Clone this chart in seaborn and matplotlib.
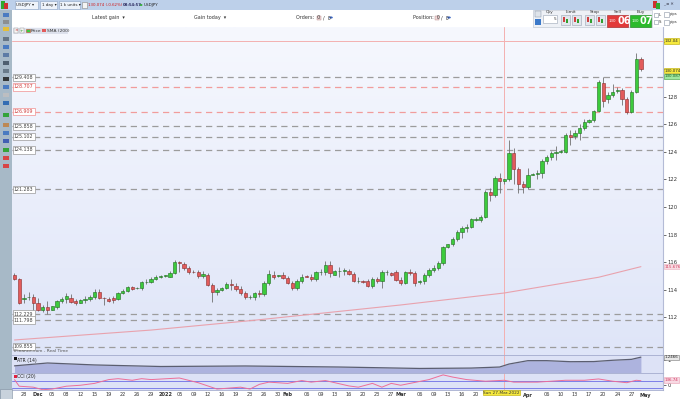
import numpy as np
import pandas as pd
import matplotlib
matplotlib.use("Agg")
import matplotlib.pyplot as plt
import seaborn as sns
from matplotlib.patches import Rectangle
from matplotlib.colors import LinearSegmentedColormap
from matplotlib.transforms import blended_transform_factory as blend

# ---------------- data ----------------
pair = "USDJPY"
lead_dates = ["2021-11-25", "2021-11-26"]
session_start, axis_end = "2021-11-28", "2022-05-01"

opens = [
    115.05, 114.75,
    113.35, 113.45, 113.50, 113.05, 112.50, 112.75,
    112.55, 112.75, 113.18, 113.35, 113.40, 113.20,
    113.05, 113.28, 113.30, 113.45, 113.85, 113.40,
    113.35, 113.40, 113.35, 113.75, 113.90, 114.20,
    114.10, 114.10, 114.55, 114.55, 114.80, 114.95,
    115.00, 114.95, 115.20, 116.00, 115.85, 115.55,
    115.30, 115.30, 115.00, 115.10, 114.35, 113.85,
    113.95, 114.15, 114.40, 114.30, 114.05, 113.75,
    113.45, 113.45, 113.75, 113.65, 114.50, 115.10,
    115.00, 115.05, 114.85, 114.50, 114.10, 114.60,
    115.00, 114.95, 114.75, 115.25, 115.25, 115.80,
    115.10, 115.35, 115.35, 115.35, 115.15, 114.60,
    114.60, 114.60, 114.30, 114.80, 114.60, 115.25,
    115.20, 115.25, 114.70, 114.45, 115.25, 115.20,
    114.55, 114.60, 115.05, 115.40, 115.60, 115.90,
    117.10, 117.30, 117.65, 118.20, 118.45, 118.55,
    119.05, 119.05, 119.30, 121.10, 120.90, 122.10,
    121.85, 122.00, 123.90, 122.75, 121.65, 121.45,
    122.35, 122.42, 122.50, 123.35, 123.60, 123.90,
    124.00, 124.00, 125.20, 125.15, 125.35, 125.70,
    126.20, 126.30, 126.95, 129.00, 127.80, 128.10,
    128.45, 128.50, 127.80, 126.90, 128.35, 130.75,
]
highs = [
    115.20, 114.85,
    113.70, 113.80, 113.65, 113.40, 112.90, 113.20,
    112.85, 113.25, 113.45, 113.75, 113.65, 113.35,
    113.30, 113.55, 113.60, 114.05, 114.05, 113.45,
    113.45, 113.55, 113.85, 114.05, 114.30, 114.30,
    114.20, 114.65, 114.80, 114.90, 115.10, 115.10,
    115.10, 115.35, 116.15, 116.10, 116.00, 115.70,
    115.40, 115.45, 115.35, 115.20, 114.45, 114.15,
    114.20, 114.55, 114.75, 114.50, 114.25, 113.90,
    113.60, 113.85, 113.95, 114.60, 115.40, 115.35,
    115.10, 115.30, 115.00, 114.60, 114.75, 115.15,
    115.10, 115.15, 115.35, 115.50, 116.05, 116.10,
    115.40, 115.65, 115.60, 115.50, 115.25, 114.90,
    114.70, 114.75, 114.95, 114.95, 115.45, 115.45,
    115.30, 115.45, 114.95, 115.35, 115.50, 115.35,
    114.70, 115.20, 115.55, 115.80, 116.05, 117.20,
    117.35, 117.85, 118.35, 118.60, 118.80, 119.20,
    119.25, 119.45, 121.20, 121.40, 122.25, 122.45,
    122.05, 124.85, 124.30, 122.90, 121.90, 122.80,
    122.50, 122.70, 123.45, 123.75, 124.05, 124.40,
    124.10, 125.35, 125.60, 125.55, 126.05, 126.35,
    126.40, 127.05, 129.20, 129.45, 128.37, 128.90,
    128.70, 128.60, 127.95, 128.50, 131.15, 130.90,
]
lows = [
    114.70, 112.95,
    113.05, 113.25, 112.30, 112.45, 112.40, 112.25,
    112.50, 112.60, 113.05, 113.05, 113.00, 112.90,
    113.00, 113.05, 113.15, 113.35, 113.30, 112.90,
    113.10, 113.05, 113.25, 113.65, 113.80, 113.95,
    114.05, 114.00, 114.40, 114.45, 114.70, 114.85,
    114.90, 114.90, 115.15, 115.30, 115.40, 115.15,
    115.20, 114.85, 114.85, 114.25, 113.10, 113.60,
    113.90, 114.05, 114.00, 113.90, 113.60, 113.30,
    113.35, 113.25, 113.50, 113.55, 114.35, 114.80,
    114.90, 114.75, 114.40, 114.00, 113.95, 114.45,
    114.90, 114.60, 114.65, 115.10, 115.10, 114.90,
    115.05, 114.95, 115.10, 115.05, 114.55, 114.45,
    114.50, 114.20, 114.15, 114.50, 114.10, 115.05,
    115.00, 114.60, 114.35, 114.40, 115.05, 114.30,
    114.40, 114.40, 114.95, 115.30, 115.45, 115.80,
    117.00, 117.15, 117.55, 117.75, 118.20, 118.50,
    118.95, 118.90, 119.20, 120.40, 120.75, 121.00,
    121.70, 121.90, 121.70, 121.00, 121.00, 121.30,
    122.30, 122.00, 122.10, 123.15, 123.40, 123.40,
    123.90, 123.90, 124.50, 124.95, 124.85, 125.60,
    126.10, 126.20, 126.90, 127.28, 127.52, 128.00,
    128.30, 127.40, 126.75, 126.85, 128.25, 129.85,
]
closes = [
    114.75, 113.05,
    113.42, 113.50, 113.00, 112.50, 112.75, 112.50,
    112.78, 113.15, 113.30, 113.55, 113.10, 113.05,
    113.25, 113.32, 113.45, 113.85, 113.40, 113.38,
    113.20, 113.28, 113.75, 113.90, 114.20, 114.08,
    114.15, 114.55, 114.57, 114.75, 114.95, 114.97,
    115.05, 115.20, 116.00, 115.90, 115.60, 115.25,
    115.28, 115.00, 115.15, 114.35, 113.85, 114.00,
    114.15, 114.40, 114.32, 114.05, 113.75, 113.45,
    113.48, 113.75, 113.65, 114.50, 115.15, 114.95,
    115.02, 114.85, 114.50, 114.10, 114.60, 114.95,
    114.95, 114.75, 115.25, 115.28, 115.80, 115.20,
    115.35, 115.38, 115.40, 115.15, 114.60, 114.62,
    114.58, 114.30, 114.80, 114.60, 115.25, 115.28,
    115.10, 114.70, 114.45, 115.25, 115.22, 114.45,
    114.60, 115.05, 115.40, 115.60, 115.90, 117.10,
    117.30, 117.65, 118.20, 118.45, 118.55, 119.10,
    119.15, 119.30, 121.10, 120.90, 122.10, 121.85,
    122.00, 123.90, 122.75, 121.65, 121.45, 122.30,
    122.42, 122.50, 123.35, 123.60, 123.90, 124.00,
    124.02, 125.20, 125.10, 125.40, 125.70, 126.20,
    126.30, 126.95, 129.05, 127.70, 128.10, 128.35,
    128.50, 127.80, 126.90, 128.35, 130.75, 130.00,
]

sma_dates = ["2021-11-25", "2021-12-29", "2022-01-23", "2022-03-01",
             "2022-03-27", "2022-04-19", "2022-04-29"]
sma_values = [110.35, 111.07, 111.75, 112.89, 113.76, 114.90, 115.67]

atr_dates = ["2021-11-25", "2021-12-03", "2021-12-15", "2021-12-31", "2022-01-21",
             "2022-02-14", "2022-03-06", "2022-03-18", "2022-03-25", "2022-03-28",
             "2022-04-01", "2022-04-06", "2022-04-12", "2022-04-18", "2022-04-22",
             "2022-04-27", "2022-04-29"]
atr_values = [0.55, 0.77, 0.62, 0.50, 0.54, 0.46, 0.35, 0.38, 0.46, 0.69,
              0.95, 0.95, 0.87, 0.88, 0.98, 1.05, 1.22]

cci_dates = ["2021-11-25", "2021-11-26", "2021-11-30", "2021-12-02", "2021-12-05",
             "2021-12-08", "2021-12-12", "2021-12-15", "2021-12-19", "2021-12-21",
             "2021-12-24", "2021-12-27", "2021-12-29", "2022-01-05", "2022-01-10",
             "2022-01-14", "2022-01-20", "2022-01-23", "2022-01-25", "2022-01-27",
             "2022-02-01", "2022-02-04", "2022-02-07", "2022-02-10", "2022-02-13",
             "2022-02-16", "2022-02-18", "2022-02-22", "2022-02-24", "2022-02-27",
             "2022-03-01", "2022-03-08", "2022-03-11", "2022-03-14", "2022-03-17",
             "2022-03-22", "2022-03-27", "2022-03-29", "2022-04-04", "2022-04-11",
             "2022-04-15", "2022-04-19", "2022-04-22", "2022-04-26", "2022-04-28",
             "2022-04-29"]
cci_values = [147, -40, -67, -139, -120, -40, -13, 40, 147, 173,
              128, 173, 147, 192, 59, -120, -67, -120, 13, 75,
              40, 120, 75, 120, 59, -32, -67, 40, -67, 40,
              -13, 147, 280, 219, 147, 101, 128, 75, 75, 128,
              128, 165, 101, 59, 128, 115]

level_values = [129.408, 128.707, 126.909, 125.858, 125.102, 124.138,
                121.283, 112.229, 111.798, 109.855]
level_labels = ["129.408", "128.707", "126.909", "125.858", "125.102", "124.138",
                "121.283", "112.229", "111.798", "109.855"]
level_kinds = ["grey", "pink", "pink", "grey", "grey", "grey",
               "grey", "grey", "grey", "grey"]

cross_date, cross_price = "2022-03-27", 132.04
cross_date_label = "Sun 27-Mar-2022"
sell_label, buy_label = "130.074", "130.087"
sma_label, atr_label, cci_label = "115.676", "1.2466", "136.74"
price_ticks = [112, 114, 116, 118, 120, 122, 124, 126, 128, 130, 132]
hidden_ticks = [130, 132]   # covered by the price flags in the original

tick_dates = ["2021-11-28", "2021-12-01", "2021-12-05", "2021-12-08", "2021-12-12",
              "2021-12-15", "2021-12-19", "2021-12-22", "2021-12-26", "2021-12-29",
              "2022-01-02", "2022-01-05", "2022-01-09", "2022-01-12", "2022-01-16",
              "2022-01-19", "2022-01-23", "2022-01-26", "2022-01-30", "2022-02-01",
              "2022-02-06", "2022-02-09", "2022-02-13", "2022-02-16", "2022-02-20",
              "2022-02-23", "2022-02-27", "2022-03-01", "2022-03-06", "2022-03-09",
              "2022-03-13", "2022-03-16", "2022-03-20", "2022-04-01", "2022-04-06",
              "2022-04-10", "2022-04-13", "2022-04-17", "2022-04-20", "2022-04-24",
              "2022-04-27", "2022-05-01"]
tick_labels = ["28", "Dec", "05", "08", "12", "15", "19", "22", "26", "29",
               "2022", "05", "09", "12", "16", "19", "23", "26", "30", "Feb",
               "06", "09", "13", "16", "20", "23", "27", "Mar", "06", "09",
               "13", "16", "20", "Apr", "06", "10", "13", "17", "20", "24",
               "27", "May"]
bold_labels = {"Dec", "2022", "Feb", "Mar", "Apr", "May"}

# ---------------- style ----------------
sns.set_theme(style="white")
plt.rcParams["font.family"] = ["DejaVu Sans"]

W, H = 680, 399
fig = plt.figure(figsize=(W / 100, H / 100), dpi=100, facecolor="white")


def box(x0, y0, x1, y1):
    return [x0 / W, 1 - y1 / H, (x1 - x0) / W, (y1 - y0) / H]


def rect(x0, y0, x1, y1, **kw):
    fig.add_artist(Rectangle((x0 / W, 1 - y1 / H), (x1 - x0) / W, (y1 - y0) / H,
                             transform=fig.transFigure, **kw))


def ftext(x, y, s, **kw):
    kw.setdefault("fontsize", 3.6)
    kw.setdefault("va", "center")
    kw.setdefault("color", "#333333")
    fig.text(x / W, 1 - y / H, s, **kw)


# x positions (trading sessions Sun-Fri)
session = pd.bdate_range(session_start, axis_end, freq="C",
                         weekmask="Sun Mon Tue Wed Thu Fri")
axis_dates = pd.to_datetime(lead_dates).append(session)
pos = {d: i for i, d in enumerate(axis_dates)}
n = len(opens)
xi = np.arange(n)


def p(dates):
    return np.array([pos[pd.Timestamp(d)] for d in dates])


XL = (-0.53, 137.69)

ax = fig.add_axes(box(12, 27, 663, 355))
ax_atr = fig.add_axes(box(12, 355, 663, 373), sharex=ax)
ax_cci = fig.add_axes(box(12, 373, 663, 390), sharex=ax)

main_lim = (109.26, 133.06)
grad = LinearSegmentedColormap.from_list("bg", ["#f6f8fe", "#dfe5f8"])
ax.imshow(np.linspace(0, 1, 200).reshape(-1, 1), cmap=grad, aspect="auto",
          extent=[XL[0], XL[1], main_lim[0], main_lim[1]], origin="upper", zorder=0)
for a in (ax_atr, ax_cci):
    a.set_facecolor("#dde2f6")

# level lines
for v, lab, kind in zip(level_values, level_labels, level_kinds):
    col = "#9c9c9c" if kind == "grey" else "#f19c9c"
    ax.axhline(v, color=col, lw=0.9, dashes=(5, 3.6), zorder=1)
    ax.text(0.003, v, lab, transform=blend(ax.transAxes, ax.transData), fontsize=3.4,
            va="center", ha="left", color="#444444" if kind == "grey" else "#d04040",
            bbox=dict(boxstyle="square,pad=0.25", fc="white",
                      ec="#999999" if kind == "grey" else "#f09090", lw=0.5), zorder=6)

# crosshair
ax.axhline(cross_price, color="#f3b0b0", lw=0.7, zorder=1)
for a in (ax, ax_atr, ax_cci):
    a.axvline(pos[pd.Timestamp(cross_date)], color="#f3b0b0", lw=0.7, zorder=1)

# SMA 200
sns.lineplot(x=p(sma_dates), y=sma_values, ax=ax, color="#e9a2ad", lw=0.8, zorder=2)

# candles
o = np.array(opens); h = np.array(highs); l = np.array(lows); c = np.array(closes)
up = c >= o
ax.vlines(xi, l, h, color="#707070", lw=0.6, zorder=3)
body = np.maximum(np.abs(c - o), 0.03)
ax.bar(xi[up], body[up], bottom=np.minimum(o, c)[up], width=0.7,
       color="#3ccb3c", edgecolor="#1f6b1f", linewidth=0.4, zorder=4)
ax.bar(xi[~up], body[~up], bottom=np.minimum(o, c)[~up], width=0.7,
       color="#e25b5b", edgecolor="#8a2b2b", linewidth=0.4, zorder=4)

ax.set_xlim(*XL)
ax.set_ylim(*main_lim)
ax.yaxis.tick_right()
ax.set_yticks(price_ticks)
ax.set_yticklabels(["" if t in hidden_ticks else str(t) for t in price_ticks])
ax.tick_params(axis="y", labelsize=3.8, length=2, pad=1.2, colors="#333333", width=0.5)
ax.tick_params(axis="x", bottom=False, labelbottom=False)
ax.set_xlabel(""); ax.set_ylabel("")

RFS = 2.9
tr = blend(ax.transAxes, ax.transData)
ax.text(1.002, cross_price, "132.04", transform=tr, fontsize=RFS, va="center", ha="left",
        bbox=dict(boxstyle="square,pad=0.15", fc="#f6e93c", ec="#b8a800", lw=0.4),
        clip_on=False, zorder=8)
ax.text(1.002, closes[-1] - 0.1, sell_label, transform=tr, fontsize=RFS, va="center",
        ha="left",
        bbox=dict(boxstyle="square,pad=0.15", fc="#f6e93c", ec="#b8a800", lw=0.4),
        clip_on=False, zorder=8)
ax.text(1.002, closes[-1] - 0.52, buy_label, transform=tr, fontsize=RFS, va="center",
        ha="left", color="#1d5e1d",
        bbox=dict(boxstyle="square,pad=0.15", fc="#9fe89f", ec="#3a9a3a", lw=0.4),
        clip_on=False, zorder=8)
ax.text(1.002, sma_values[-1], sma_label, transform=tr, fontsize=RFS, va="center",
        ha="left", color="#d04060",
        bbox=dict(boxstyle="square,pad=0.15", fc="#f8dbe2", ec="#eab0bc", lw=0.4),
        clip_on=False, zorder=8)
ax.text(0.003, 109.55, "IFinance.com - Real Time", transform=tr, fontsize=3.2,
        va="center", ha="left", color="#555555", zorder=6)

# ATR panel
xa = p(atr_dates)
ax_atr.fill_between(xa, atr_values, 0, color="#adb3de", lw=0, zorder=1)
sns.lineplot(x=xa, y=atr_values, ax=ax_atr, color="#5b5e70", lw=0.9, zorder=2)
ax_atr.set_ylim(0, 1.385)
ax_atr.yaxis.tick_right()
ax_atr.set_yticks([1])
ax_atr.set_yticklabels(["1"])
ax_atr.tick_params(axis="y", labelsize=3.8, length=2, pad=1.2, colors="#333333", width=0.5)
ax_atr.tick_params(axis="x", bottom=False, labelbottom=False)
ax_atr.set_ylabel(""); ax_atr.set_xlabel("")
ax_atr.text(1.002, atr_values[-1], atr_label, transform=blend(ax_atr.transAxes, ax_atr.transData),
            fontsize=RFS, va="center", ha="left",
            bbox=dict(boxstyle="square,pad=0.15", fc="#e8e8e8", ec="#777777", lw=0.4),
            clip_on=False, zorder=8)
ax_atr.text(0.0075, 0.72, "ATR (14)", transform=ax_atr.transAxes, fontsize=3.3, va="center",
            ha="left", color="#222222", zorder=6)

# CCI panel
for lvl in (100, -100):
    ax_cci.axhline(lvl, color="#7d7ee8", lw=0.7, zorder=1)
sns.lineplot(x=p(cci_dates), y=cci_values, ax=ax_cci, color="#ee6e98", lw=0.7, zorder=2)
ax_cci.set_ylim(-147, 333)
ax_cci.yaxis.tick_right()
ax_cci.set_yticks([0])
ax_cci.set_yticklabels(["0"])
ax_cci.tick_params(axis="y", labelsize=3.8, length=2, pad=1.2, colors="#333333", width=0.5)
ax_cci.text(1.002, cci_values[-1] + 20, cci_label,
            transform=blend(ax_cci.transAxes, ax_cci.transData),
            fontsize=RFS, va="center", ha="left", color="#d0305a",
            bbox=dict(boxstyle="square,pad=0.15", fc="#f8d9e3", ec="#e8a0b4", lw=0.4),
            clip_on=False, zorder=8)
ax_cci.text(0.0075, 0.8, "CCI (20)", transform=ax_cci.transAxes, fontsize=3.3, va="center",
            ha="left", color="#222222", zorder=6)
ax_cci.set_xticks(p(tick_dates))
ax_cci.set_xticklabels(tick_labels)
ax_cci.tick_params(axis="x", labelsize=3.6, length=0, pad=1.8, colors="#333333", bottom=True)
for t in ax_cci.get_xticklabels():
    if t.get_text() in bold_labels:
        t.set_fontweight("bold")
ax_cci.set_ylabel(""); ax_cci.set_xlabel("")
ax_cci.text(pos[pd.Timestamp(cross_date)] - 0.6, -0.05, cross_date_label,
            transform=blend(ax_cci.transData, ax_cci.transAxes), fontsize=3.1,
            va="top", ha="center", color="#333333",
            bbox=dict(boxstyle="square,pad=0.15", fc="#f6e93c", ec="#b8a800", lw=0.4),
            clip_on=False, zorder=9)
ax.set_xlim(*XL)

for a in (ax, ax_atr, ax_cci):
    for s in a.spines.values():
        s.set_visible(False)
    a.spines["right"].set_visible(True)
    a.spines["right"].set_color("#b4bbd6")
    a.spines["right"].set_linewidth(0.8)
    a.spines["top"].set_visible(True)
    a.spines["top"].set_color("#a4acce")
    a.spines["top"].set_linewidth(0.6)
ax.spines["top"].set_visible(False)
ax_cci.spines["bottom"].set_visible(True)
ax_cci.spines["bottom"].set_color("#a4acce")
ax_cci.spines["bottom"].set_linewidth(0.6)

# ---------------- platform chrome ----------------
# title bar
rect(0, 0, 680, 10, fc="#bdd0ea", ec="none")
rect(1, 1.5, 5, 8.5, fc="#2faa2f", ec="none")
rect(4, 3, 8, 8.5, fc="#d03030", ec="none")
for (x0, x1, s) in [(15, 38, "USDJPY \u25be"), (40, 57, "1 day \u25be"), (59, 80, "1 k units \u25be")]:
    rect(x0, 1.5, x1, 8.5, fc="#eef3fa", ec="#8ea4c4", lw=0.4)
    ftext(x0 + 1.5, 5, s, fontsize=3.0, color="#222222")
rect(82, 2, 87, 8, fc="#f4f4f4", ec="#8a8a8a", lw=0.4)
ftext(88.5, 5, "130.074 (-0.62%)", fontsize=2.8, color="#d01818")
ftext(123, 5, "08:54:57", fontsize=2.8, color="#333366", fontweight="bold")
fig.add_artist(plt.Circle((141 / W, 1 - 5 / H), 1.5 / W, transform=fig.transFigure,
                          fc="#22aa22", ec="none"))
ftext(143.5, 5, pair, fontsize=3.0, color="#222222")
rect(653, 1, 657, 8, fc="#d03030", ec="none")
rect(656, 3, 660, 9, fc="#2faa2f", ec="none")
ftext(663, 4.5, "_ \u25ab \u2715", fontsize=3.0, color="#334")

# toolbar row
rect(12, 10, 680, 27, fc="white", ec="none")
ftext(92, 17.5, "Latest gain  \u25be", fontsize=3.5)
ftext(194, 17.5, "Gain today  \u25be", fontsize=3.5)
ftext(296, 17.5, "Orders:  0", fontsize=3.5)
rect(317, 15.5, 321, 19.5, fc="#f0d8d8", ec="#b08080", lw=0.3)
ftext(323, 17.5, "/  0", fontsize=3.5)
fig.add_artist(plt.Circle((331 / W, 1 - 17.5 / H), 1.8 / W, transform=fig.transFigure,
                          fc="#3a66c4", ec="none"))
ftext(413, 17.5, "Position:  0", fontsize=3.5)
rect(435, 15.5, 439, 19.5, fc="#f0d8d8", ec="#b08080", lw=0.3)
ftext(441, 17.5, "/  0", fontsize=3.5)
fig.add_artist(plt.Circle((449 / W, 1 - 17.5 / H), 1.8 / W, transform=fig.transFigure,
                          fc="#3a66c4", ec="none"))
rect(533, 10, 652, 27, fc="#eef1f6", ec="#b8c0cc", lw=0.4)
rect(535, 11, 541, 17, fc="#dfe4ea", ec="#7a8aa0", lw=0.3)
rect(535, 19, 541, 25, fc="#3b79c9", ec="none")
ftext(549.5, 12.2, "Qty", fontsize=3.2, ha="center")
rect(543, 15, 557, 23, fc="white", ec="#9aa4b4", lw=0.4)
ftext(556, 19, "5", fontsize=3.0, ha="right")
ftext(571, 12.2, "Limit", fontsize=3.2, ha="center")
ftext(595, 12.2, "Stop", fontsize=3.2, ha="center")
for x0 in (561, 572, 585, 596):
    rect(x0, 14.5, x0 + 9, 25, fc="#e2e6ec", ec="#9aa4b4", lw=0.4)
    rect(x0 + 2, 17, x0 + 4, 22, fc="#d04040", ec="none")
    rect(x0 + 5, 19, x0 + 7, 23, fc="#30a030", ec="none")
ftext(617.5, 12.2, "Sell", fontsize=3.2, ha="center")
ftext(640.5, 12.2, "Buy", fontsize=3.2, ha="center")
rect(607, 14.5, 628, 26.5, fc="#e23a3a", ec="#a02020", lw=0.4)
rect(630, 14.5, 651, 26.5, fc="#2cba2c", ec="#1a801a", lw=0.4)
ftext(609, 21.5, "130", fontsize=2.8, color="white")
ftext(617, 20.5, "06", fontsize=7, color="white", fontweight="bold")
ftext(632, 21.5, "130", fontsize=2.8, color="white")
ftext(640, 20.5, "07", fontsize=7, color="white", fontweight="bold")
for yy, s in ((14.5, "L"), (22, "S")):
    rect(654, yy - 2, 658, yy + 2, fc="white", ec="#8a94a4", lw=0.4)
    ftext(659, yy, s, fontsize=2.8)
    rect(664, yy - 2.5, 669, yy + 2.5, fc="white", ec="#8a94a4", lw=0.4)
    ftext(670, yy, "pips", fontsize=2.6)

# legend strip
rect(12.5, 27.5, 68, 33.5, fc="#dde1ec", ec="none")
rect(13.5, 28.3, 18, 32.7, fc="#f6f6f6", ec="#909090", lw=0.3)
ftext(15.75, 30.6, "\u00d7", fontsize=3.2, color="#c02020", ha="center")
rect(19.5, 28.3, 24, 32.7, fc="#f6f6f6", ec="#909090", lw=0.3)
ftext(21.75, 30.6, "+", fontsize=3.2, color="#209020", ha="center")
rect(26, 28.8, 29.5, 32.2, fc="#3ccb3c", ec="#d04040", lw=0.4)
ftext(30.5, 30.6, "Price", fontsize=3.2)
rect(42, 28.8, 45.5, 32.2, fc="#e25b5b", ec="none")
ftext(46.5, 30.6, "SMA (200)", fontsize=3.2)
rect(13.5, 356.5, 16.5, 359.5, fc="#111111", ec="none")
rect(13.5, 375, 16.5, 378, fc="#e02040", ec="none")

# left toolbar
rect(0, 10, 12, 399, fc="#a7b9c7", ec="none")
icon_y = [15, 22, 29, 39, 47, 55, 63, 71, 79, 87, 95, 103, 115, 125, 133, 141, 150, 158, 166]
icon_c = ["#3a70c0", "#888888", "#f0c020", "#5a6a7a", "#3a70c0", "#5070a0", "#405060",
          "#607080", "#202020", "#3a70c0", "#c0c0c0", "#2060b0", "#20a020", "#c08040",
          "#3a70c0", "#3050b0", "#20a020", "#e03030", "#e03030"]
for yy, cc in zip(icon_y, icon_c):
    rect(3, yy - 2.2, 9, yy + 2.2, fc=cc, ec="none", alpha=0.85)
rect(0, 389, 12, 399, fc="#c8d2dc", ec="#7f8fa0", lw=0.4)

fig.savefig("out.png", dpi=100)
